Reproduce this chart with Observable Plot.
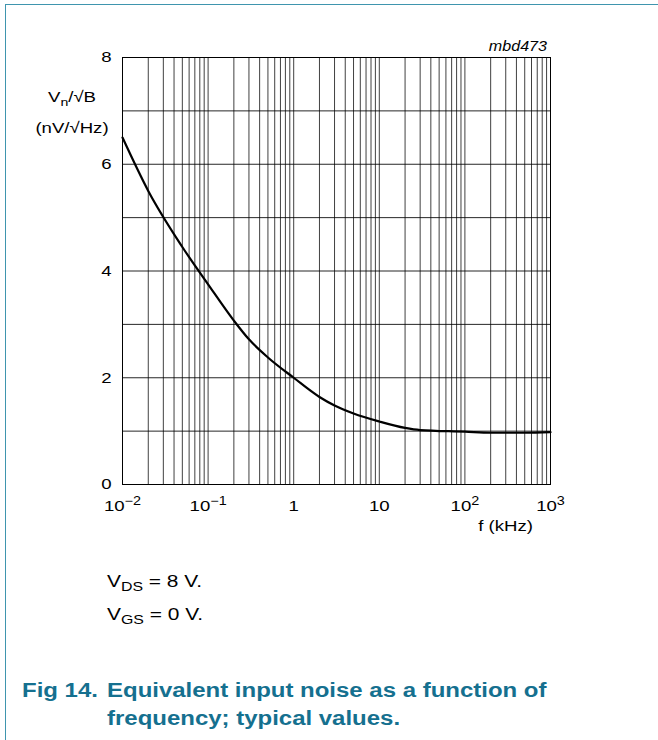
<!DOCTYPE html>
<html>
<head>
<meta charset="utf-8">
<script src="https://cdn.jsdelivr.net/npm/d3@7"></script>
<script src="https://cdn.jsdelivr.net/npm/@observablehq/plot@0.6"></script>
<style>
  html, body { margin: 0; padding: 0; background: #fff; }
  #wrap { position: relative; width: 658px; height: 740px; overflow: hidden; font-family: "Liberation Sans", Arial, sans-serif; }
  #frameTop { position: absolute; left: 5px; top: 4px; width: 660px; height: 0; border-top: 1.5px solid #3f95ae; }
  #frameLeft { position: absolute; left: 5px; top: 4px; width: 0; height: 740px; border-left: 1.5px solid #3f95ae; }
  #chart { position: absolute; left: 0; top: 0; }
  #overlay { position: absolute; left: 0; top: 0; pointer-events: none; }
</style>
</head>
<body>
<div id="wrap">
  <div id="frameTop"></div>
  <div id="frameLeft"></div>
  <div id="chart"></div>
</div>
<script>
// Data
const freqKHz = [0.01, 0.02, 0.05, 0.1, 0.2, 0.3, 0.5, 1, 2, 3, 5, 10, 20, 30, 100, 200, 500, 1000];
const noise   = [6.5, 5.5, 4.45, 3.75, 3.07, 2.72, 2.38, 2.0, 1.64, 1.48, 1.33, 1.18, 1.06, 1.02, 0.99, 0.97, 0.97, 0.98];

const xTicks = [0.01, 0.1, 1, 10, 100, 1000];
const xTickLabels = ["10|−2", "10|−1", "1", "10", "10|2", "10|3"];
const yTicks = [0, 2, 4, 6, 8];
const yGrid = [0, 1, 2, 3, 4, 5, 6, 7, 8];

const xGrid = [];
for (let e = -2; e < 3; e++) for (let m = 1; m <= 9; m++) xGrid.push(m * Math.pow(10, e));
xGrid.push(1000);

const data = freqKHz.map((f, i) => ({f, v: noise[i]}));

const STRETCH = 1.2;
const FONT = "'Liberation Sans', Arial, sans-serif";

const chart = Plot.plot({
  width: 658,
  height: 520,
  marginLeft: 122,
  marginRight: 108,
  marginTop: 57,
  marginBottom: 36,
  style: {fontFamily: FONT, fontSize: "15.5px", background: "transparent", overflow: "visible", color: "#000"},
  x: {type: "log", domain: [0.01, 1000], ticks: xTicks, tickFormat: d => xTickLabels[xTicks.indexOf(d)], tickSize: 0, tickPadding: 15, label: null},
  y: {domain: [0, 8], ticks: yTicks, tickSize: 0, tickPadding: 11, label: null},
  marks: [
    Plot.ruleX(xGrid, {stroke: "#000", strokeWidth: 1, strokeOpacity: 0.75}),
    Plot.ruleY(yGrid, {stroke: "#000", strokeWidth: 1, strokeOpacity: 0.85}),
    Plot.frame({stroke: "#000", strokeWidth: 1}),
    Plot.line(data, {x: "f", y: "v", curve: "monotone-x", stroke: "#000", strokeWidth: 2.2})
  ]
});

// Tick label styling: size, superscript exponents, horizontal stretch
const sel = d3.select(chart);
const tickTexts = sel.selectAll('g[aria-label="x-axis tick label"] text, g[aria-label="y-axis tick label"] text');
sel.selectAll('g[aria-label="x-axis tick label"], g[aria-label="y-axis tick label"]')
  .attr("font-size", "15.5px").style("font-size", "15.5px").attr("fill", "#000");
tickTexts.attr("font-size", "15.5px").style("font-size", "15.5px").attr("fill", "#000");
sel.selectAll('g[aria-label="x-axis tick label"] text').each(function() {
  const s = d3.select(this);
  const txt = s.text();
  if (txt.includes("|")) {
    const [base, exp] = txt.split("|");
    s.text(null);
    s.append("tspan").text(base);
    s.append("tspan").attr("dy", "-0.42em").style("font-size", "12px").text(exp);
  }
});
tickTexts.each(function() {
  const t = this.getAttribute("transform") || "";
  this.setAttribute("transform", t + ` scale(${STRETCH},1)`);
});

document.getElementById("chart").appendChild(chart);

// Overlay texts (axis titles, id, conditions, caption)
const ov = d3.select("#wrap").append("svg").attr("id", "overlay")
  .attr("width", 658).attr("height", 740)
  .attr("font-family", FONT);

function addText(x, y, anchor, size, parts, opts = {}) {
  const t = ov.append("text")
    .attr("transform", `translate(${x},${y}) scale(${opts.stretch || STRETCH},1)`)
    .attr("text-anchor", anchor)
    .attr("font-size", size)
    .attr("fill", opts.fill || "#000")
    .attr("font-weight", opts.weight || null)
    .attr("font-style", opts.style || null);
  parts.forEach(p => {
    const sp = t.append("tspan").text(p.text);
    if (p.sub) sp.attr("font-size", p.size || size * 0.76).attr("dy", p.sub);
  });
  return t;
}

// Y-axis title
addText(72, 102, "middle", 15.5, [{text: "V"}, {text: "n", sub: 4}, {text: "/√B", sub: -4, size: 15.5}]);
addText(72, 133, "middle", 15.5, [{text: "(nV/√Hz)"}]);
// Figure id
addText(547, 51, "end", 14, [{text: "mbd473"}], {style: "italic", stretch: 1.15});
// X-axis title
addText(533, 531, "end", 15.5, [{text: "f (kHz)"}]);
// Conditions
addText(107, 587, "start", 17, [{text: "V"}, {text: "DS", sub: 4}, {text: " = 8 V.", sub: -4, size: 17}], {stretch: 1.23});
addText(107, 620, "start", 17, [{text: "V"}, {text: "GS", sub: 4}, {text: " = 0 V.", sub: -4, size: 17}], {stretch: 1.23});
// Caption
const capOpts = {weight: "bold", fill: "#15708f", stretch: 1.23};
addText(22, 697, "start", 19.5, [{text: "Fig 14."}], capOpts);
addText(107, 697, "start", 19.5, [{text: "Equivalent input noise as a function of"}], capOpts);
addText(107, 725, "start", 19.5, [{text: "frequency; typical values."}], capOpts);
</script>
</body>
</html>
